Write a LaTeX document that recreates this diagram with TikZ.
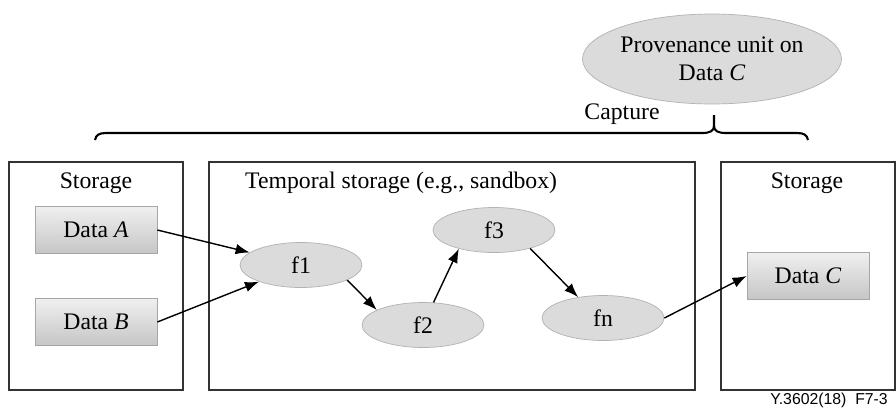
\documentclass[tikz,border=0pt]{standalone}
\usepackage{fontspec}
\setmainfont{Liberation Serif}
\newfontfamily\figfont{Liberation Sans}
\usetikzlibrary{shapes.geometric,arrows.meta}

\begin{document}
\begin{tikzpicture}[x=0.02cm,y=-0.02cm,>={Latex[length=8pt,width=6pt]},
    font=\fontsize{13.5}{16}\selectfont,
    store/.style={draw=black!80,line width=0.8pt,minimum height=4.56cm},
    data/.style={draw=gray!70,top color=gray!12,bottom color=gray!45,
        minimum width=2.44cm,minimum height=0.94cm,inner sep=0pt},
    func/.style={ellipse,draw=gray!60,fill=gray!28,minimum
        width=2.44cm,minimum height=0.9cm,inner sep=0pt}]

    \useasboundingbox (0,0) rectangle (896,410);

    % storage areas
    \node[store,minimum width=3.48cm] (src) at (96,276) {};
    \node[store,minimum width=9.72cm] (tmp) at (452,276) {};
    \node[store,minimum width=3.48cm] (dst) at (808,276) {};
    \node (srcl) at (96,183) {Storage};
    \node[anchor=west] (tmpl) at (239,183) {Temporal storage (e.g., sandbox)};
    \node (dstl) at (807,183) {Storage};

    % data and functions
    \node[data] (dA) at (96,230) {Data \textit{A}};
    \node[data] (dB) at (96,322) {Data \textit{B}};
    \node[data] (dC) at (808,276) {Data \textit{C}};
    \node[func] (f1) at (301,265) {f1};
    \node[func] (f2) at (423,325) {f2};
    \node[func] (f3) at (494,230) {f3};
    \node[func] (fn) at (603,318) {fn};

    \draw[->,thick] (dA.east) to (f1);
    \draw[->,thick] (dB.east) to (f1);
    \draw[->,thick] (f1.-18) to (f2.162);
    \draw[->,thick] (f2.65) to (f3.-152);
    \draw[->,thick] (f3.-27) to (fn.140);
    \draw[->,thick] (fn.east) to (dC.west);

    % capture brace
    \node[ellipse,draw=gray!60,fill=gray!28,minimum width=5.12cm,minimum
        height=1.8cm,align=center,inner sep=0pt] (prov) at (712,59)
        {Provenance unit on\\Data \textit{C}};
    \node (cap) at (622,114) {Capture};
    \draw[line width=1.2pt] (95,140) .. controls (96,135) and (99,133) .. (106,133)
        -- (702,133) .. controls (710,133) and (714,131) .. (714,126) -- (714,115);
    \draw[line width=1.2pt] (714,126) .. controls (714,131) and (718,133) .. (726,133)
        -- (797,133) .. controls (804,133) and (807,135) .. (808,140);

    \node[anchor=east,font=\figfont\fontsize{9}{11}\selectfont] (fig) at (894,400)
        {Y.3602(18)\ \ F7-3};

  \end{tikzpicture}
\end{document}
